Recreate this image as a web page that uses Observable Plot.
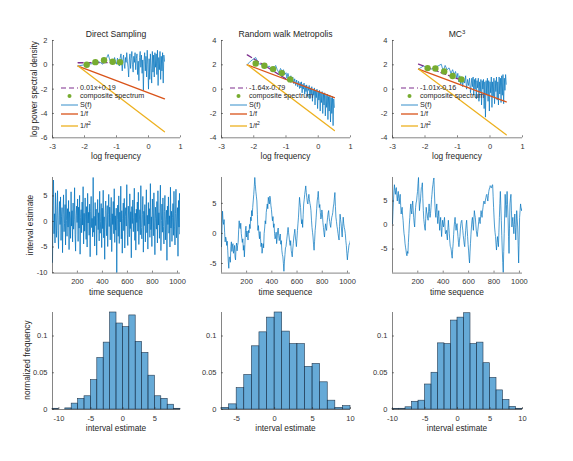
<!DOCTYPE html>
<html><head><meta charset="utf-8">
<script src="https://cdn.jsdelivr.net/npm/d3@7"></script>
<script src="https://cdn.jsdelivr.net/npm/@observablehq/plot@0.6"></script>
<style>
body{margin:0;background:#fff;}
#fig{position:relative;width:573px;height:461px;overflow:hidden;font-family:"Liberation Sans",Arial,Helvetica,sans-serif;color:#262626;background:#fff;}
.t{position:absolute;white-space:nowrap;transform:translate(-50%,-50%);line-height:1;}
.yl{transform:translate(-50%,-50%) rotate(-90deg);}
.lg{position:absolute;white-space:nowrap;transform:translate(0,-50%);font-size:7.2px;line-height:1;}
.sw{position:absolute;transform:translate(0,-50%);}
sup{font-size:70%;vertical-align:top;position:relative;top:-0.3em;}
</style></head><body><div id="fig"></div>
<script>
// ---------- Row 1: spectra ----------
const titles = ["Direct Sampling", "Random walk Metropolis", "MC<sup>3</sup>"];
const fitLabels = ["0.01x+0.19", "-1.64x-0.79", "-1.01x-0.16"];
// high-frequency log-frequency grid shared by the three spectra
const hiX = [-0.56,-0.54,-0.52,-0.5,-0.48,-0.46,-0.44,-0.42,-0.4,-0.38,-0.36,-0.34,-0.32,-0.3,-0.28,-0.26,-0.24,-0.22,-0.2,-0.18,-0.16,-0.14,-0.12,-0.1,-0.08,-0.06,-0.04,-0.02,0,0.02,0.04,0.06,0.08,0.1,0.12,0.14,0.16,0.18,0.2,0.22,0.24,0.26,0.28,0.3,0.32,0.34,0.36,0.38,0.4,0.42,0.44,0.46,0.48,0.5];
// Direct sampling S(f)
const loX1 = [-2.21,-1.91,-1.73,-1.61,-1.51,-1.43,-1.37,-1.31,-1.26,-1.21,-1.17,-1.13,-1.09,-1.06,-1.03,-1.0,-0.97,-0.94,-0.91,-0.89,-0.86,-0.84,-0.82,-0.8,-0.78,-0.76,-0.74,-0.72,-0.7,-0.68,-0.66,-0.64,-0.62,-0.6,-0.58];
const loY1 = [-0.1,0.05,0.1,0.3,0.2,0.05,0.35,0.55,0.85,0.4,0.15,0.45,0.1,0.6,0.25,0.05,0.55,0.2,-0.1,0.5,0.9,0.3,-0.5,0.4,0.8,0.1,-0.3,0.6,0.2,1.0,0.3,-0.2,-1.0,0.4,0.9];
const hiY1 = [-0.3,0.5,1.1,0.0,-0.6,0.7,0.2,1.0,-0.4,0.5,0.9,-0.8,0.3,-1.3,0.6,1.1,-0.2,0.8,-0.7,0.4,-2.1,0.3,1.0,-0.5,0.7,-1.0,1.2,0.0,-2.0,0.5,-1.2,0.9,-0.3,-1.5,1.1,-0.6,0.8,-1.0,1.0,-0.2,0.9,-0.8,1.2,-1.7,0.6,-0.4,1.1,-1.2,0.7,-0.5,1.0,-1.5,0.8,0.3];
// Random walk Metropolis S(f)
const loX2 = [-2.21,-2.1,-1.94,-1.85,-1.75,-1.68,-1.6,-1.52,-1.45,-1.38,-1.32,-1.27,-1.22,-1.17,-1.12,-1.08,-1.04,-1.0,-0.97,-0.94,-0.91,-0.88,-0.85,-0.82,-0.79,-0.76,-0.73,-0.7,-0.67,-0.64,-0.61,-0.58];
const loY2 = [2.0,2.3,2.6,2.1,2.0,1.85,1.8,1.9,1.65,1.7,1.95,1.6,1.35,1.7,1.45,1.6,1.2,1.35,0.9,1.3,1.0,0.7,1.1,0.6,1.0,0.45,0.85,0.3,0.75,0.2,0.65,0.05];
const hiY2 = [0.55,0.1,0.6,-0.3,0.4,0.0,0.5,-0.4,0.3,-0.2,0.35,-0.6,0.2,-0.1,0.3,-0.8,0.1,-0.4,0.2,-1.0,0.0,-0.5,0.1,-1.3,-0.1,-0.7,0.0,-1.6,-0.2,-0.9,-0.1,-1.8,-0.3,-1.1,-0.2,-2.0,-0.4,-1.3,-0.3,-2.2,-0.5,-1.5,-0.4,-2.5,-0.6,-1.8,-0.5,-2.7,-0.7,-2.0,-0.6,-3.0,-0.8,-1.5];
// MC3 S(f)
const loX3 = [-2.2,-2.05,-1.92,-1.8,-1.7,-1.6,-1.5,-1.44,-1.38,-1.32,-1.26,-1.2,-1.15,-1.1,-1.06,-1.02,-0.99,-0.96,-0.93,-0.9,-0.87,-0.84,-0.81,-0.78,-0.75,-0.72,-0.69,-0.66,-0.63,-0.6];
const loY3 = [1.65,1.9,1.8,1.65,1.8,1.9,2.05,1.5,1.95,1.6,1.75,1.3,1.6,1.2,1.45,0.9,1.3,0.6,1.1,0.4,1.0,0.2,0.9,0.5,1.1,0.0,0.8,0.3,0.9,-0.3];
const hiY3 = [0.9,0.2,1.0,-0.5,0.8,0.0,0.9,-0.8,0.7,0.1,0.9,-1.0,0.6,-0.2,0.8,-1.3,0.7,0.0,0.8,-1.6,0.6,-2.3,0.7,-0.4,0.9,-1.0,0.7,-1.8,0.6,-0.3,1.0,-1.5,0.6,-0.6,0.9,-1.2,0.7,-0.2,1.0,-0.9,0.6,-1.3,1.0,-0.4,0.9,-1.1,1.1,-0.5,1.2,-1.2,0.9,-0.1,1.2,0.4];
// composite spectrum points
const compX1 = [-1.93,-1.66,-1.39,-1.12,-0.89], compY1 = [0.0,0.22,0.38,0.25,0.22];
const compX2 = [-1.94,-1.67,-1.40,-1.13,-0.87], compY2 = [2.11,1.92,1.65,1.32,0.80];
const compX3 = [-1.92,-1.68,-1.41,-1.15,-0.88], compY3 = [1.73,1.70,1.46,1.08,0.80];
// fitted line endpoints
const fitX = [-2.2,-0.85];
const fitY1 = [0.17,0.18], fitY2 = [2.82,0.60], fitY3 = [2.06,0.70];
// reference 1/f and 1/f^2 line endpoints
const refX = [-2.2,0.5];
const invF1 = [-0.1,-2.8], invF21 = [-0.1,-5.5];
const invF2 = [2.0,-0.7], invF22 = [2.0,-3.4];
const invF3 = [1.65,-1.05], invF23 = [1.65,-3.75];

// ---------- Row 2: chains (interval estimate vs time sequence) ----------
const chainDS = [-8.0,3.1,8.1,-2.4,1.5,-4.2,5.6,0.3,-3.1,2.2,6.0,-1.8,-5.3,1.1,3.9,-0.6,
4.8,-3.7,0.9,2.7,-6.1,1.4,5.2,-2.0,-0.4,3.3,-4.6,6.3,0.2,-2.9,2.5,-1.1,
4.1,-5.5,1.9,0.7,-3.3,5.8,-0.9,2.1,-4.0,3.6,-1.5,0.4,6.6,-2.6,-5.8,1.2,
3.0,-0.2,4.4,-3.9,2.8,-1.3,5.1,-6.4,0.8,2.3,-2.2,3.8,-0.7,6.8,-4.4,1.6,
-1.9,4.6,0.1,-3.5,2.9,-5.0,5.5,-0.3,1.8,-2.7,3.4,-6.9,2.0,4.9,-1.2,0.6,
-3.0,8.6,-2.1,1.0,-4.8,3.7,-0.8,2.4,-6.6,0.5,4.3,-1.6,1.7,-3.8,5.9,-2.3,
0.0,3.5,-5.1,2.6,-1.4,6.1,-3.2,0.9,-7.4,2.2,4.0,-0.5,-2.8,3.1,-4.9,1.3,
5.3,-1.0,2.8,-3.6,0.7,4.7,-5.9,1.5,-0.6,3.9,-2.4,6.4,-4.1,1.1,-1.7,2.6,
-10.1,0.4,3.2,-2.9,5.0,-4.3,1.8,-0.1,6.9,-3.4,2.1,-6.2,0.6,3.6,-1.8,4.5,
-5.2,1.0,2.7,-0.9,7.2,-2.5,-4.7,3.0,0.3,-3.0,5.4,-1.4,1.9,-7.1,2.9,-0.4,
4.2,-2.0,0.8,6.5,-3.7,1.6,-5.6,2.4,-0.2,3.8,-1.9,5.7,-4.5,0.1,2.3,-2.6,
7.0,-1.2,-3.4,1.4,4.9,-6.0,2.0,-0.8,3.3,-4.0,0.5,6.2,-2.2,1.2,-5.4,3.7,
-0.5,2.5,-3.1,7.4,-1.6,0.9,-4.9,4.4,1.3,-2.8,5.6,-0.3,-6.5,2.8,0.6,-1.5,
3.9,-4.2,6.0,-0.7,1.7,-3.3,2.6,7.1,-5.7,0.2,3.4,-2.1,4.6,-1.0,-4.4,1.9,
5.1,-3.6,0.4,2.2,-7.6,3.0,-0.6,4.8,-2.3,1.1,-5.0,6.7,-1.3,2.0,-3.9,0.7,
3.5,-2.7,5.9,-0.9,-4.6,1.5,6.3,-3.2,0.3,2.7,-6.8,4.1,-1.1,5.5,-2.5,0.9];
const chainRWM = [-2.2,0.9,3.7,2.0,1.5,2.3,0.2,-1.4,-0.6,-0.9,-2.0,-1.3,-2.8,-4.6,-5.8,-3.9,-4.0,-4.8,-2.2,-1.4,-3.0,-2.1,-1.7,-3.3,-2.8,-2.0,-3.9,-4.4,-2.2,-1.6,-2.9,-2.0,-1.5,0.6,2.1,1.0,0.8,1.7,0.0,-0.8,
-1.5,-0.9,-2.8,-2.0,-3.9,-1.8,0.5,1.2,-0.6,0.4,-0.2,-1.1,0.5,0.1,1.5,0.8,2.7,2.1,3.8,2.9,4.3,5.4,6.5,7.8,9.3,8.1,7.0,6.2,5.4,3.1,0.5,1.3,-0.05,-0.9,0.3,-0.8,-2.2,-1.6,-3.3,-2.5,
-1.7,-2.4,0.0,0.9,2.1,1.6,3.5,4.2,4.9,4.1,6.0,5.3,4.9,6.2,5.7,4.6,4.0,2.9,2.1,2.8,1.0,1.6,0.0,-0.9,-0.6,0.2,-1.7,-0.8,0.5,0.9,-0.3,-1.2,-0.6,-0.1,-1.8,-1.2,-2.8,-3.5,-3.9,-5.0,
-6.3,-4.6,-3.5,-2.4,-2.2,-1.4,-0.6,0.2,1.0,0.1,-0.6,-1.5,-2.0,-1.2,-2.8,-3.4,-3.9,-2.6,-1.7,-0.6,0.0,0.7,-0.6,-1.3,-2.2,-0.9,0.5,1.6,2.7,4.4,6.0,5.1,4.3,2.6,1.6,2.3,1.0,3.1,4.9,5.6,
6.5,7.2,7.9,6.8,6.0,5.2,4.9,5.8,6.5,5.6,5.0,4.6,3.8,2.2,1.0,0.2,-0.6,-1.9,-2.8,-1.3,0.5,1.4,2.7,4.1,5.4,6.1,7.0,5.5,4.3,4.8,3.5,2.4,2.7,3.9,3.2,1.8,1.0,0.1,-0.6,0.7,
1.6,0.9,0.5,1.8,2.7,3.4,3.8,2.6,2.0,1.4,1.0,2.0,2.7,3.0,3.5,4.4,4.9,5.9,6.8,4.5,2.7,2.0,1.2,0.7,0.0,-0.6,-1.1,1.2,3.2,2.3,1.6,0.4,-0.6,1.1,2.7,1.6,1.0,0.6,0.0,-1.2,
-2.0,-3.3,-4.4,-3.4,-2.8,-2.0,-1.7,-1.5,-1.1];
const chainMC3 = [0.3,2.9,5.0,7.1,8.4,7.2,6.4,7.5,7.8,6.1,5.0,6.3,7.0,5.5,4.4,5.8,6.4,4.1,2.3,3.1,3.7,2.0,1.0,-0.6,-1.8,-2.5,-3.8,-4.6,-5.2,-6.0,-6.4,-5.5,-5.9,-3.6,-1.8,0.2,1.6,3.3,4.4,3.0,
2.3,4.1,5.0,3.1,1.6,0.4,-0.4,1.9,3.7,4.6,5.0,6.1,7.0,8.6,9.9,5.8,3.0,4.3,5.0,6.6,7.8,8.0,8.8,5.5,3.0,1.2,0.3,-0.6,-1.1,1.4,3.7,2.7,2.3,1.4,1.0,2.9,4.4,2.8,1.6,2.4,
3.7,5.3,6.4,7.7,8.4,9.3,9.8,6.9,4.4,2.7,1.6,3.3,4.4,2.0,0.3,1.8,3.0,0.8,-1.1,0.6,1.6,-0.5,-2.4,-0.6,1.0,0.2,-0.4,0.8,1.6,-0.3,-1.8,-1.5,-1.1,-2.3,-3.1,-0.8,1.0,-0.5,-1.8,-3.3,
-4.5,-4.6,-5.2,-6.3,-6.9,-5.1,-3.8,-2.0,-0.4,0.8,1.6,0.1,-1.1,-0.2,0.3,-1.2,-2.4,-3.6,-4.5,-3.3,-2.4,-0.8,0.3,0.8,1.0,-0.2,-1.1,-2.2,-3.1,-4.0,-4.5,-2.6,-1.1,0.2,1.0,-0.8,-2.4,-4.0,-5.2,-6.8,
-7.9,-5.6,-3.8,-1.9,-0.4,0.9,1.6,0.1,-1.1,1.2,3.0,2.1,1.6,0.2,-1.1,-1.9,-2.4,-1.3,-0.4,0.7,1.6,0.8,0.3,1.8,3.0,2.2,1.6,2.9,3.7,4.6,5.0,4.6,4.4,5.2,5.7,6.2,6.4,5.6,5.0,6.1,
7.0,7.5,7.8,8.2,8.1,7.7,7.8,8.3,8.4,6.0,3.7,1.5,-0.4,-1.5,-2.4,-4.0,-5.2,-3.6,-2.4,-3.6,-4.5,-1.5,1.6,4.5,7.0,4.0,1.0,-2.2,-5.2,-7.8,-9.9,-5.5,-1.8,2.5,6.4,4.0,1.6,4.3,7.0,4.2,
1.6,-2.4,-5.9,-0.8,4.4,5.6,6.4,3.1,-0.4,0.8,1.6,-0.2,-1.8,0.1,2.3,-0.5,-3.1,0.0,3.0,1.3,-0.4,-4.2,-7.9,-3.1,1.6,3.0,4.4,3.5,3.0,3.4,3.7];
const chainLength = 1024;

// ---------- Row 3: histograms (bin width 1) ----------
const binStartDS = -11, histDS = [0.001,0.0,0.0015,0.008,0.0145,0.018,0.040,0.070,0.091,0.132,0.117,0.112,0.128,0.092,0.077,0.046,0.018,0.0145,0.0065,0.001];
const binStartRWM = -7, histRWM = [0.0023,0.007,0.029,0.047,0.086,0.105,0.125,0.132,0.106,0.089,0.089,0.058,0.062,0.037,0.012,0.0023,0.0045];
const binStartMC3 = -10, histMC3 = [0.0005,0.001,0.003,0.0105,0.012,0.034,0.050,0.090,0.089,0.121,0.125,0.131,0.089,0.091,0.063,0.043,0.026,0.013,0.0035,0.001];

// ---------- helpers ----------
const C = {blue:"#0072BD", red:"#D95319", yellow:"#EDB120", purple:"#7E2F8E", green:"#77AC30"};
const fig = document.getElementById("fig");
const FONT = '"Liberation Sans", Arial, Helvetica, sans-serif';
const cols = [{x:52,w:128},{x:221,w:129},{x:392,w:130}];
const rows = [{y:39.7,h:97.3},{y:176.7,h:95.6},{y:311.7,h:97}];
const M = {l:34, r:12, t:6, b:20};
const fmt = d => String(d);
const pts = (xs, ys) => xs.map((x, i) => ({x, y: ys[i]}));

function panel(ci, ri, o) {
  const c = cols[ci], r = rows[ri];
  const svg = Plot.plot({
    width: M.l + c.w + M.r, height: M.t + r.h + M.b,
    marginLeft: M.l, marginRight: M.r, marginTop: M.t, marginBottom: M.b,
    style: {fontFamily: FONT, fontSize: "7.5px", color: "#333", background: "transparent", overflow: "visible"},
    x: {domain: o.xd}, y: {domain: o.yd},
    marks: [
      ...o.marks,
      Plot.ruleX([o.xd[0]], {stroke: "#333", strokeWidth: 0.6}),
      Plot.ruleY([o.yd[0]], {stroke: "#333", strokeWidth: 0.6}),
      Plot.axisX({ticks: o.xt, tickFormat: fmt, tickSize: -2, tickPadding: 7.8, label: null, strokeWidth: 0.6}),
      Plot.axisY({ticks: o.yt, tickFormat: fmt, tickSize: -2, tickPadding: 7, label: null, strokeWidth: 0.6})
    ]
  });
  svg.style.position = "absolute";
  svg.style.left = (c.x - M.l) + "px";
  svg.style.top = (r.y - M.t) + "px";
  svg.style.maxWidth = "none";
  fig.appendChild(svg);
}
function text(html, x, y, size, cls) {
  const d = document.createElement("div");
  d.className = "t" + (cls ? " " + cls : "");
  d.style.left = x + "px"; d.style.top = y + "px"; d.style.fontSize = size + "px";
  d.innerHTML = html;
  fig.appendChild(d);
}
const legRows = [87.6, 95.9, 104.6, 114.3, 126];
function legend(ci, fitLabel) {
  const x0 = cols[ci].x + 8.7;
  const items = [
    {html: fitLabel, sw: `<line x1="0" y1="3" x2="17" y2="3" stroke="${C.purple}" stroke-width="1.2" stroke-dasharray="5,3"/>`},
    {html: "composite spectrum", sw: `<circle cx="8.5" cy="3" r="2" fill="${C.green}"/>`},
    {html: "S(f)", sw: `<line x1="0" y1="3" x2="17" y2="3" stroke="${C.blue}" stroke-width="0.8"/>`},
    {html: "1/f", sw: `<line x1="0" y1="3" x2="17" y2="3" stroke="${C.red}" stroke-width="1.3"/>`},
    {html: "1/f<sup>2</sup>", sw: `<line x1="0" y1="3" x2="17" y2="3" stroke="${C.yellow}" stroke-width="1.3"/>`}
  ];
  items.forEach((it, i) => {
    const s = document.createElement("div");
    s.className = "sw"; s.style.left = x0 + "px"; s.style.top = legRows[i] + "px";
    s.innerHTML = `<svg width="17" height="6" style="display:block">${it.sw}</svg>`;
    fig.appendChild(s);
    const t = document.createElement("div");
    t.className = "lg"; t.style.left = (x0 + 19.3) + "px"; t.style.top = legRows[i] + "px";
    t.innerHTML = it.html;
    fig.appendChild(t);
  });
}

// ---------- Row 1 ----------
const spec = [
  {lo: pts(loX1, loY1), hi: pts(hiX, hiY1), comp: pts(compX1, compY1), fit: pts(fitX, fitY1), f1: pts(refX, invF1), f2: pts(refX, invF21), yd: [-6, 2], yt: [-6,-4,-2,0,2]},
  {lo: pts(loX2, loY2), hi: pts(hiX, hiY2), comp: pts(compX2, compY2), fit: pts(fitX, fitY2), f1: pts(refX, invF2), f2: pts(refX, invF22), yd: [-4, 4], yt: [-4,-2,0,2,4]},
  {lo: pts(loX3, loY3), hi: pts(hiX, hiY3), comp: pts(compX3, compY3), fit: pts(fitX, fitY3), f1: pts(refX, invF3), f2: pts(refX, invF23), yd: [-4, 4], yt: [-4,-2,0,2,4]}
];
spec.forEach((s, i) => {
  panel(i, 0, {
    xd: [-3, 1], yd: s.yd, xt: [-3,-2,-1,0,1], yt: s.yt,
    marks: [
      Plot.line(s.lo.concat(s.hi), {x: "x", y: "y", stroke: C.blue, strokeWidth: 0.7}),
      Plot.line(s.f1, {x: "x", y: "y", stroke: C.red, strokeWidth: 1.3}),
      Plot.line(s.f2, {x: "x", y: "y", stroke: C.yellow, strokeWidth: 1.3}),
      Plot.line(s.fit, {x: "x", y: "y", stroke: C.purple, strokeWidth: 1.3, strokeDasharray: "5,3"}),
      Plot.dot(s.comp, {x: "x", y: "y", r: 3.2, fill: C.green, stroke: "none"})
    ]
  });
  const c = cols[i];
  text(titles[i], c.x + c.w / 2, 34.3, 8.6);
  text("log frequency", c.x + c.w / 2, 155.5, 8.3);
  legend(i, fitLabels[i]);
});
text("log power spectral density", 34.3, 88.5, 8.3, "yl");

// ---------- Row 2 ----------
const chains = [
  {v: chainDS, yd: [-10.1, 8.6], yt: [-10,-5,0,5], sw: 0.75},
  {v: chainRWM, yd: [-6.6, 9.3], yt: [-5,0,5], sw: 0.7},
  {v: chainMC3, yd: [-10, 9.9], yt: [-5,0,5], sw: 0.7}
];
chains.forEach((ch, i) => {
  const n = ch.v.length;
  const data = ch.v.map((y, k) => ({t: 1 + k * (chainLength - 1) / (n - 1), y}));
  panel(i, 1, {
    xd: [1, chainLength], yd: ch.yd, xt: [200,400,600,800,1000], yt: ch.yt,
    marks: [Plot.line(data, {x: "t", y: "y", stroke: C.blue, strokeWidth: ch.sw, clip: true})]
  });
  const c = cols[i];
  text("time sequence", c.x + c.w / 2, 291.7, 8.3);
});
text("interval estimate", 30, 224.5, 8.3, "yl");

// ---------- Row 3 ----------
const hists = [
  {start: binStartDS, h: histDS, xt: [-10,-5,0,5]},
  {start: binStartRWM, h: histRWM, xt: [-5,0,5,10]},
  {start: binStartMC3, h: histMC3, xt: [-10,-5,0,5,10]}
];
hists.forEach((hs, i) => {
  const bins = hs.h.map((v, k) => ({x1: hs.start + k, x2: hs.start + k + 1, y: v}));
  panel(i, 2, {
    xd: [hs.start, hs.start + hs.h.length], yd: [0, 0.132], xt: hs.xt, yt: [0, 0.05, 0.1],
    marks: [Plot.rectY(bins, {x1: "x1", x2: "x2", y: "y", fill: C.blue, fillOpacity: 0.6, stroke: "#22384e", strokeWidth: 0.6})]
  });
  const c = cols[i];
  text("interval estimate", c.x + c.w / 2, 427.7, 8.3);
});
text("normalized frequency", 26.7, 360, 8.3, "yl");
</script></body></html>
